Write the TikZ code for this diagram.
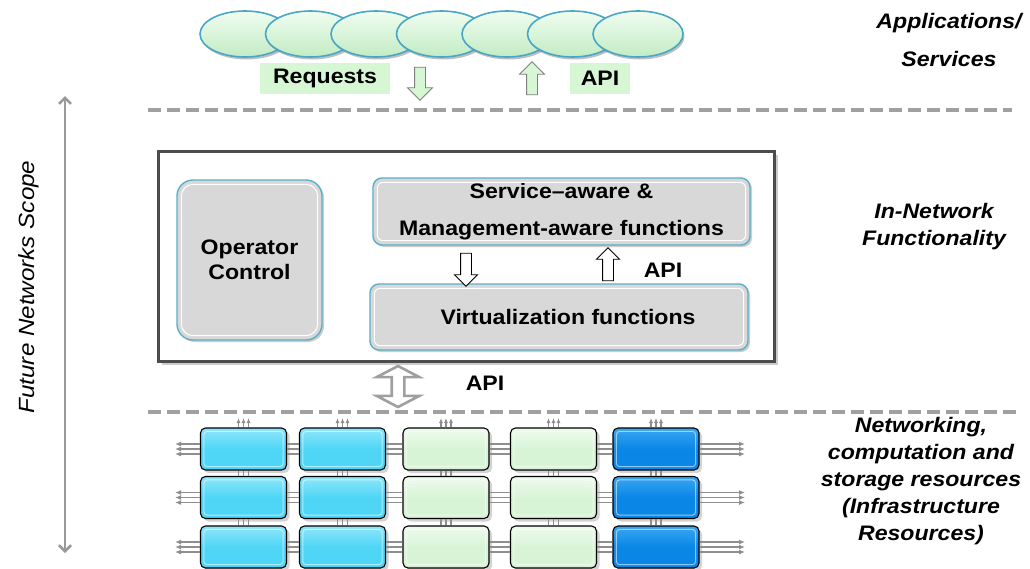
\documentclass[tikz,border=0pt]{standalone}
\usepackage{fontspec}
\setmainfont[FakeStretch=1.1]{Liberation Sans}
\usetikzlibrary{shapes.geometric,shapes.arrows,shadows,arrows.meta}
\definecolor{ellbord}{HTML}{4AA6C6}
\definecolor{elltop}{HTML}{F0FDF0}
\definecolor{ellbot}{HTML}{C2ECC4}
\definecolor{lblgreen}{HTML}{D6F6D4}
\definecolor{boxgray}{HTML}{D8D8D8}
\definecolor{tealb}{HTML}{5AAFCB}
\definecolor{cyanb}{HTML}{4FD6F6}
\definecolor{cyant}{HTML}{8FE6FA}
\definecolor{greenb}{HTML}{D8F4D6}
\definecolor{greent}{HTML}{EEFBEE}
\definecolor{blueb}{HTML}{0A86E6}
\definecolor{bluet}{HTML}{3AA6F2}
\definecolor{linegray}{HTML}{8E8E8E}
\definecolor{dashgray}{HTML}{A0A0A0}
\begin{document}
\begin{tikzpicture}[x=1pt,y=-1pt,
  txt/.style={font=\fontsize{21}{25}\selectfont\bfseries, inner sep=0pt},
  side/.style={font=\fontsize{21}{27}\selectfont\bfseries\itshape, align=center, inner sep=0pt},
  ell/.style={ellipse, minimum width=90pt, minimum height=46pt, draw=ellbord, line width=1.6pt,
    top color=elltop, bottom color=ellbot, drop shadow={shadow xshift=1.5pt, shadow yshift=-2.5pt, opacity=0.5}},
  tag/.style={fill=lblgreen, minimum height=31pt, inner sep=0pt, font=\fontsize{21}{25}\selectfont\bfseries},
  smallarr/.style={single arrow, draw=gray, line width=0.9pt, minimum height=33pt, inner sep=5pt,
    single arrow head extend=7pt, single arrow head indent=0pt},
  inarr/.style={single arrow, draw=black, fill=white, line width=0.9pt, minimum height=33pt, inner sep=5pt,
    single arrow head extend=6pt, single arrow head indent=0pt},
  func/.style={draw=tealb, line width=1.4pt, fill=boxgray, rounded corners=9pt,
    drop shadow={shadow xshift=2pt, shadow yshift=-2pt, opacity=0.4}},
  bevel/.style={white, line width=1pt, rounded corners=#1},
  res/.style={draw=black, line width=1.1pt, rounded corners=5pt, minimum width=86pt, minimum height=42pt,
    drop shadow={shadow xshift=3pt, shadow yshift=-3pt, opacity=0.35}},
  sepline/.style={dashgray, line width=3.5pt, dash pattern=on 13pt off 6pt},
  link/.style={linegray, line width=1.8pt},
  tip/.style={-{Latex[length=6pt,width=5pt]}}
]
\useasboundingbox (0,0) rectangle (1030,568);

% applications ellipses
\foreach \i in {0,...,6}
  \node[ell] (e\i) at ({245+65.5*\i},34) {};

\node[tag, minimum width=130pt] (req) at (325,78) {Requests};
\node[tag, minimum width=60pt] (api1) at (600,78) {API};
\node[smallarr, fill=lblgreen, rotate=-90] (reqarr) at (420,81) {};
\node[smallarr, fill=lblgreen, rotate=90] (apiarr) at (532,81) {};

% dashed separators
\coordinate (d1a) at (148,110); \coordinate (d1b) at (1012,110);
\coordinate (d2a) at (148,412); \coordinate (d2b) at (1020,412);
\draw[sepline] (d1a) -- (d1b);
\draw[sepline] (d2a) -- (d2b);

% scope arrow
\coordinate (sTop) at (65,96); \coordinate (sBot) at (65,553);
\draw[gray!80, line width=2.6pt, {Straight Barb[length=6pt,width=12pt]}-{Straight Barb[length=6pt,width=12pt]}] (sTop) -- (sBot);
\node[font=\fontsize{22}{25}\selectfont\itshape, rotate=90, inner sep=0pt] (scope) at (29,287) {Future Networks Scope};

% in-network functionality box
\node[draw=gray!60!black, line width=2.6pt, fill=white, minimum width=616pt, minimum height=210pt,
  drop shadow={shadow xshift=3pt, shadow yshift=-3pt, opacity=0.4}] (inf) at (466.5,256.5) {};
\node[func, rounded corners=16pt, minimum width=145pt, minimum height=160pt, align=center,
  font=\fontsize{21}{25}\selectfont\bfseries] (op) at (249.5,260) {Operator\\Control};
\node[func, minimum width=377pt, minimum height=67pt, align=center,
  font=\fontsize{21}{37}\selectfont\bfseries] (svc) at (561.5,211.5) {Service–aware \&\\Management-aware functions};
\node[func, minimum width=378pt, minimum height=66pt,
  font=\fontsize{21}{25}\selectfont\bfseries] (virt) at (559,317) {\hspace*{18pt}Virtualization functions};
\draw[bevel=12pt] ([shift={(5pt,5pt)}]op.south west) rectangle ([shift={(-5pt,-5pt)}]op.north east);
\draw[bevel=6pt] ([shift={(5pt,5pt)}]svc.south west) rectangle ([shift={(-5pt,-5pt)}]svc.north east);
\draw[bevel=6pt] ([shift={(5pt,5pt)}]virt.south west) rectangle ([shift={(-5pt,-5pt)}]virt.north east);
\node[inarr, rotate=-90] (down2) at (466,267) {};
\node[inarr, rotate=90] (up2) at (608,267) {};
\node[txt] (api2) at (663,270) {API};

% API between layers
\node[double arrow, fill=white, draw=gray!75, line width=2.6pt, rotate=90, minimum height=41pt,
  inner sep=5pt, double arrow head extend=15pt, double arrow head indent=0pt, double arrow tip angle=125] (dbl) at (398,386.5) {};
\node[txt] (api3) at (485,383) {API};

% resources grid
\foreach \c/\x/\col/\tcol in {1/243.5/cyanb/cyant,2/342.5/cyanb/cyant,3/446/greenb/greent,4/553.5/greenb/greent,5/656/blueb/bluet}{
  \foreach \r/\y in {1/449,2/497.5,3/547}{
    \node[res, top color=\tcol, bottom color=\col, middle color=\col] (r\r-\c) at (\x,\y) {};
    \draw[white, opacity=0.55, line width=1pt, rounded corners=3pt] ([shift={(4pt,4pt)}]r\r-\c.south west) rectangle ([shift={(-4pt,-4pt)}]r\r-\c.north east);
  }
  \coordinate (T\c) at (\x,418);
  \coordinate (B\c) at (\x,576);
}
\foreach \r/\y in {1/449,2/497.5,3/547}{
  \coordinate (L\r) at (175,\y);
  \coordinate (R\r) at (745,\y);
  \foreach \o in {-5,0,5}{
    \draw[link, tip] ([yshift=\o pt]r\r-1.west) -- ([yshift=\o pt]L\r);
    \draw[link, tip] ([yshift=\o pt]r\r-5.east) -- ([yshift=\o pt]R\r);
  }
  \foreach \c [evaluate=\c as \cn using int(\c+1)] in {1,...,4}
    \foreach \o in {-5,0,5}
      \draw[link] ([yshift=\o pt]r\r-\c.east) -- ([yshift=\o pt]r\r-\cn.west);
}
\foreach \c in {1,...,5}{
  \foreach \o in {-5,0,5}{
    \draw[link, line width=1.5pt, -{Latex[length=5pt,width=4pt]}] ([xshift=\o pt]r1-\c.north) -- ([xshift=\o pt]T\c);
    \draw[link, line width=1.5pt, -{Latex[length=5pt,width=4pt]}] ([xshift=\o pt]r3-\c.south) -- ([xshift=\o pt]B\c);
    \draw[link] ([xshift=\o pt]r1-\c.south) -- ([xshift=\o pt]r2-\c.north);
    \draw[link] ([xshift=\o pt]r2-\c.south) -- ([xshift=\o pt]r3-\c.north);
  }
}

% side labels
\node[side, font=\fontsize{21}{38}\selectfont\bfseries\itshape] (lapp) at (949,40) {Applications/\\Services};
\node[side] (lin) at (934,227) {In-Network\\Functionality};
\node[side] (lres) at (921,481) {Networking,\\computation and\\storage resources\\(Infrastructure\\Resources)};
\end{tikzpicture}
\end{document}
